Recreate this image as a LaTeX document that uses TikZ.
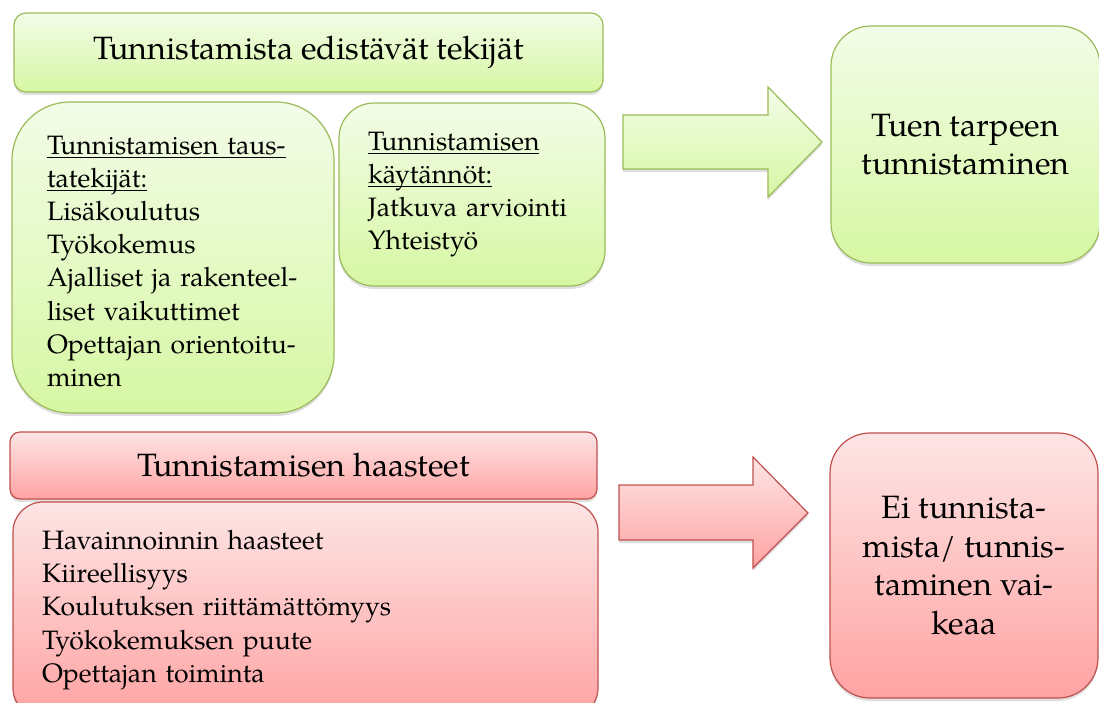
\documentclass[tikz,border=0pt]{standalone}
\usepackage{fontspec}
\setmainfont{TeX Gyre Pagella}
\usetikzlibrary{shadows}

\definecolor{greenline}{RGB}{155,187,89}
\definecolor{greentop}{RGB}{243,252,232}
\definecolor{greenbottom}{RGB}{214,247,163}
\definecolor{redline}{RGB}{192,80,77}
\definecolor{redtop}{RGB}{253,229,229}
\definecolor{redbottom}{RGB}{255,163,163}

\newcommand{\ulline}[1]{\underline{\raisebox{0pt}[\height][0pt]{#1}\rule[-1.5pt]{0pt}{0pt}}}

\tikzset{
	box/.style={rectangle, line width=1.2pt, inner sep=0pt,
		drop shadow={shadow xshift=0pt, shadow yshift=-3pt, opacity=0.25}},
	greenbox/.style={box, draw=greenline, top color=greentop, bottom color=greenbottom},
	redbox/.style={box, draw=redline, top color=redtop, bottom color=redbottom},
	bigtext/.style={font=\fontsize{32.3}{38.5}\selectfont, align=center},
	smalltext/.style={font=\fontsize{26.6}{33.2}\selectfont, align=left},
}

\begin{document}
\begin{tikzpicture}[x=1pt,y=-1pt]
	\useasboundingbox (0,0) rectangle (1099,702);
	% Green part
	\node[greenbox, bigtext, rounded corners=12pt, minimum width=589pt, minimum height=79pt] (helps) at (308.5,52.5) {Tunnistamista edistävät tekijät};
	\node[greenbox, smalltext, rounded corners=58pt, text width=252pt, inner xsep=35pt, minimum height=311pt] (factors) at (173,257.5)
		{\rule{0pt}{26pt}\ulline{Tunnistamisen taus-}\\ \ulline{tatekijät:}\\ Lisäkoulutus\\ Työkokemus\\ Ajalliset ja rakenteel-\\ liset vaikuttimet\\ Opettajan orientoitu-\\ minen};
	\node[greenbox, smalltext, rounded corners=35pt, text width=208pt, inner xsep=29pt, minimum height=183pt] (practices) at (472,194.5)
		{\ulline{Tunnistamisen}\\ \ulline{käytännöt:}\\ Jatkuva arviointi\\ Yhteistyö};
	\node[greenbox, bigtext, rounded corners=40pt, minimum width=269pt, minimum height=237pt] (support) at (965.5,144.5) {Tuen tarpeen\\ tunnistaminen};
	\draw[greenbox, top color=greentop, bottom color=greenbottom] (623,115) -- (768,115) -- (768,87) -- (822,142) -- (768,197) -- (768,169) -- (623,169) -- cycle;
	% Red part
	\node[redbox, bigtext, rounded corners=10pt, minimum width=587pt, minimum height=67pt] (hard) at (303.5,465.5) {Tunnistamisen haasteet};
	\node[redbox, smalltext, rounded corners=30pt, text width=527pt, inner xsep=29pt, minimum height=216pt] (challenges) at (305.5,610)
		{Havainnoinnin haasteet\\ Kiireellisyys\\ Koulutuksen riittämättömyys\\ Työkokemuksen puute\\ Opettajan toiminta};
	\node[redbox, bigtext, rounded corners=40pt, minimum width=268pt, minimum height=265pt] (nosupport) at (964,565.5) {Ei tunnista-\\ mista/ tunnis-\\ taminen vai-\\ keaa};
	\draw[redbox, top color=redtop, bottom color=redbottom] (619,485) -- (753,485) -- (753,457) -- (808,513) -- (753,568) -- (753,540) -- (619,540) -- cycle;
\end{tikzpicture}
\end{document}
